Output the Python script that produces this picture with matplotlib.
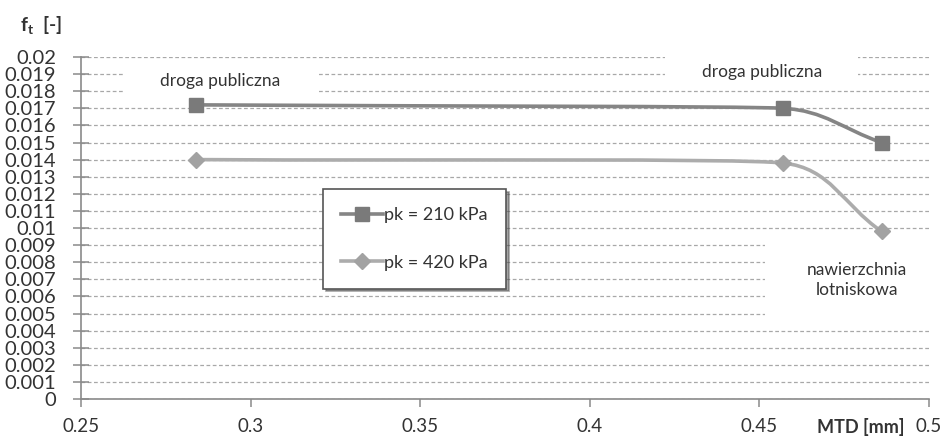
import matplotlib
matplotlib.use("Agg")
import matplotlib.pyplot as plt
from matplotlib.path import Path
from matplotlib.patches import PathPatch, Rectangle
from matplotlib.lines import Line2D
import numpy as np

plt.rcParams['font.family'] = ['Lato', 'DejaVu Sans']
plt.rcParams['mathtext.fontset'] = 'custom'
plt.rcParams['mathtext.bf'] = 'Lato:bold'
plt.rcParams['mathtext.rm'] = 'Lato'

# ---- data ----
mtd_210 = [0.284, 0.457, 0.486]
ft_210 = [0.0172, 0.0170, 0.0150]
mtd_420 = [0.284, 0.457, 0.486]
ft_420 = [0.0140, 0.0138, 0.0098]
labels = ['pk = 210 kPa', 'pk = 420 kPa']
x_ticks = [0.25, 0.3, 0.35, 0.4, 0.45, 0.5]
x_ticklabels = ['0.25', '0.3', '0.35', '0.4', '0.45', '0.5']
y_ticks = [i / 1000 for i in range(0, 21)]
y_ticklabels = ['0'] + ['%g' % (i / 1000) for i in range(1, 21)]

c1_line, c1_mark = '#858585', '#7a7a7a'
c2_line, c2_mark = '#acacac', '#a2a2a2'
axis_c = '#8a8a8a'
text_c = '#333333'


def smooth_path(ax, xs, ys, k=0.4):
    """Smoothed line through the data points: cubic Bezier built in screen space."""
    data = np.column_stack([xs, ys]).astype(float)
    pts = ax.transData.transform(data)
    n = len(pts)
    seg = [np.linalg.norm(pts[i + 1] - pts[i]) for i in range(n - 1)]
    units, dists = [], []
    for i in range(n):
        a = pts[i - 1] if i > 0 else pts[i]
        b = pts[i + 1] if i + 1 < n else pts[i]
        t = b - a
        units.append(t / np.linalg.norm(t))
        adj = [seg[j] for j in (i - 1, i) if 0 <= j < n - 1]
        dists.append(k * min(adj))
    verts = [pts[0]]
    codes = [Path.MOVETO]
    for i in range(n - 1):
        c1 = pts[i] + units[i] * dists[i]
        c2 = pts[i + 1] - units[i + 1] * dists[i + 1]
        verts += [c1, c2, pts[i + 1]]
        codes += [Path.CURVE4] * 3
    verts = ax.transData.inverted().transform(np.array(verts))
    return Path(verts, codes)


fig = plt.figure(figsize=(9.44, 4.36), dpi=100)
ax = fig.add_axes([81 / 944, 1 - 399 / 436, (929 - 81) / 944, (399 - 57) / 436])

ax.set_xlim(0.25, 0.5)
ax.set_ylim(0, 0.02)
ax.set_xticks(x_ticks)
ax.set_xticklabels(x_ticklabels)
ax.set_yticks(y_ticks)
ax.set_yticklabels(y_ticklabels)

ax.yaxis.grid(True, linestyle=(0, (3, 2)), color='#a8a8a8', linewidth=0.9, zorder=0)
ax.set_axisbelow(True)

for s in ['top', 'right']:
    ax.spines[s].set_visible(False)
for s in ['left', 'bottom']:
    ax.spines[s].set_color(axis_c)
    ax.spines[s].set_linewidth(1.2)

ax.tick_params(axis='y', direction='inout', length=12, width=1.1, color=axis_c,
               labelsize=14.5, labelcolor=text_c, pad=12)
ax.tick_params(axis='x', direction='out', length=6, width=1.1, color=axis_c,
               labelsize=13.5, labelcolor=text_c, pad=8)

# white label boxes covering grid lines
ax.add_patch(Rectangle((0.263, 0.0176), 0.3196 - 0.263, 0.01953 - 0.0176,
                       facecolor='white', edgecolor='none', zorder=1))
ax.add_patch(Rectangle((0.4222, 0.01854), 0.479 - 0.4222, 0.0205 - 0.01854,
                       facecolor='white', edgecolor='none', zorder=1, clip_on=False))
ax.add_patch(Rectangle((0.4517, 0.0045), 0.5 - 0.4517, 0.0095 - 0.0045,
                       facecolor='white', edgecolor='none', zorder=1))

ax.text(0.291, 0.01862, 'droga publiczna', ha='center', va='center', fontsize=12.5,
        color=text_c, zorder=3)
ax.text(0.4508, 0.01912, 'droga publiczna', ha='center', va='center', fontsize=12.5,
        color=text_c, zorder=3)
ax.text(0.4788, 0.00696, 'nawierzchnia\nlotniskowa', ha='center', va='center',
        fontsize=12.5, color=text_c, zorder=3, linespacing=1.35)

# series
ax.add_patch(PathPatch(smooth_path(ax, mtd_210, ft_210), facecolor='none',
                       edgecolor=c1_line, linewidth=2.6, zorder=4, capstyle='round'))
ax.add_patch(PathPatch(smooth_path(ax, mtd_420, ft_420), facecolor='none',
                       edgecolor=c2_line, linewidth=2.6, zorder=4, capstyle='round'))
ax.plot(mtd_210, ft_210, linestyle='none', marker='s', markersize=10,
        markerfacecolor=c1_mark, markeredgecolor=c1_mark, zorder=5)
ax.plot(mtd_420, ft_420, linestyle='none', marker='D', markersize=8.5,
        markerfacecolor=c2_mark, markeredgecolor=c2_mark, zorder=5)

handles = [
    Line2D([], [], color=c1_line, linewidth=2.6, marker='s', markersize=10,
           markerfacecolor=c1_mark, markeredgecolor=c1_mark),
    Line2D([], [], color=c2_line, linewidth=2.6, marker='D', markersize=8.5,
           markerfacecolor=c2_mark, markeredgecolor=c2_mark),
]
leg = ax.legend(handles, labels, loc='upper left',
                bbox_to_anchor=((323 - 81) / 848, (399 - 189) / 342),
                fontsize=13, frameon=True, fancybox=False, shadow=True,
                handlelength=2.3, handletextpad=0.1, labelspacing=1.75,
                borderpad=1.0, borderaxespad=0, labelcolor=text_c)
leg.get_frame().set_edgecolor('#555555')
leg.get_frame().set_linewidth(1.2)
leg.set_zorder(6)

# axis titles
fig.text(41 / 944, 1 - 26 / 436, r'$\mathbf{f}_\mathbf{t}$  [-]', ha='center', va='center',
         fontsize=14, fontweight='bold', color=text_c)
fig.text(861 / 944, 1 - 427 / 436, 'MTD [mm]', ha='center', va='center',
         fontsize=13, fontweight='bold', color=text_c)

fig.savefig('out.png', dpi=100)
